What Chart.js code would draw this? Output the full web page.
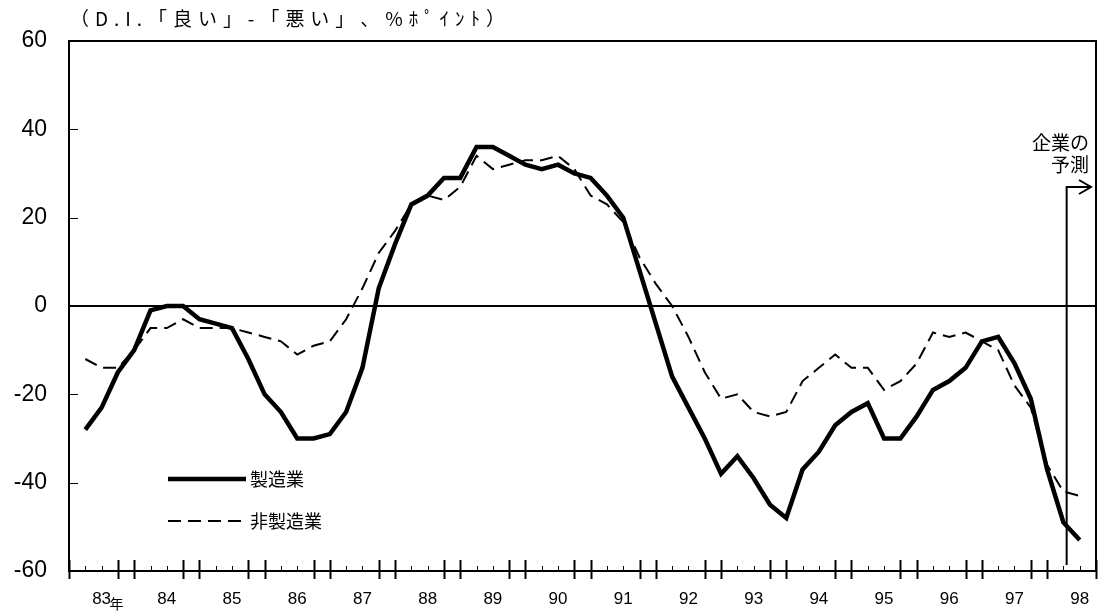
<!DOCTYPE html>
<html lang="ja">
<head>
<meta charset="utf-8">
<title>業況判断D.I.</title>
<script src="https://cdn.jsdelivr.net/npm/chart.js@4/dist/chart.umd.min.js"></script>
<style>
    html, body { margin: 0; padding: 0; background: #fff; overflow: hidden; }
    #wrap { position: relative; width: 1104px; height: 611px; }
</style>
</head>
<body>
<div id="wrap"><canvas id="diChart"></canvas></div>
<script>
// 年ラベル（四半期の2番目に表示）
const years = ['83', '84', '85', '86', '87', '88', '89', '90', '91', '92', '93', '94', '95', '96', '97', '98'];
// 製造業 D.I.（83年〜98年予測まで、四半期）
const manufacturing = [
    -28, -23, -15, -10, -1, 0, 0, -3, -4, -5, -12, -20, -24, -30, -30, -29,
    -24, -14, 4, 14, 23, 25, 29, 29, 36, 36, 34, 32, 31, 32, 30, 29,
    25, 20, 8, -4, -16, -23, -30, -38, -34, -39, -45, -48, -37, -33, -27, -24,
    -22, -30, -30, -25, -19, -17, -14, -8, -7, -13, -21, -37, -49, -53
];
// 非製造業 D.I.
const nonManufacturing = [
    -12, -14, -14, -10, -5, -5, -3, -5, -5, -5, -6, -7, -8, -11, -9, -8,
    -3, 4, 12, 17, 23, 25, 24, 27, 34, 31, 32, 33, 33, 34, 31, 25,
    23, 19, 11, 5, 0, -7, -15, -21, -20, -24, -25, -24, -17, -14, -11, -14,
    -14, -19, -17, -13, -6, -7, -6, -8, -10, -18, -23, -36, -42, -43
];
const yTicks = [-60, -40, -20, 0, 20, 40, 60];

// 目盛り位置は 0〜63、データは 1 から
const slotCount = 64;
const labels = Array.from({ length: slotCount }, (_, i) => {
    const n = (i - 2) / 4;
    return Number.isInteger(n) && years[n] ? years[n] : '';
});

const JP = '"Noto Sans CJK JP", sans-serif';
const EN = '"Liberation Sans", Arial, sans-serif';

/**
 * 枠・目盛り・凡例・注記を描く
 */
const decorations = {
    id: 'decorations',
    afterDraw(chart) {
        const { ctx, chartArea: a, scales: { x, y } } = chart;
        ctx.save();
        ctx.strokeStyle = '#000';
        ctx.fillStyle = '#000';

        // プロット枠
        ctx.lineWidth = 2;
        ctx.strokeRect(a.left, a.top, a.right - a.left, a.bottom - a.top);

        // 横軸の目盛り（年の区切りは長め）
        for (let k = 0; k < slotCount; k++) {
            const px = Math.round(x.getPixelForValue(k)) + 0.5;
            ctx.beginPath();
            if (k % 4 === 0 || k % 4 === 3) {
                ctx.lineWidth = 2;
                ctx.moveTo(px, a.bottom - 11);
                ctx.lineTo(px, a.bottom + 8);
            } else {
                ctx.lineWidth = 1;
                ctx.moveTo(px, a.bottom - 5);
                ctx.lineTo(px, a.bottom);
            }
            ctx.stroke();
        }

        // 縦軸の目盛り（内向き）
        ctx.lineWidth = 1;
        yTicks.forEach(v => {
            const py = Math.round(y.getPixelForValue(v)) + 0.5;
            ctx.beginPath();
            ctx.moveTo(a.left, py);
            ctx.lineTo(a.left + 9, py);
            ctx.stroke();
        });

        // 「83年」の年
        ctx.font = `14px ${JP}`;
        ctx.textAlign = 'left';
        ctx.textBaseline = 'middle';
        ctx.fillText('年', x.getPixelForValue(2) + 8, 604);

        // 単位（等幅風に字間を広げる）
        const unit = '（D.I.「良い」-「悪い」、%ﾎﾟｲﾝﾄ）';
        ctx.font = `19px ${JP}`;
        const chars = [...unit];
        const raw = chars.reduce((s, c) => s + ctx.measureText(c).width, 0);
        const gap = (435 - raw) / (chars.length - 1);
        let tx = 70;
        chars.forEach(c => {
            ctx.fillText(c, tx, 19);
            tx += ctx.measureText(c).width + gap;
        });

        // 凡例
        const legendX = 168;
        ctx.font = `18px ${JP}`;
        ctx.lineWidth = 4.5;
        ctx.beginPath();
        ctx.moveTo(legendX, 479);
        ctx.lineTo(legendX + 78, 479);
        ctx.stroke();
        ctx.fillText('製造業', legendX + 82, 479);

        ctx.lineWidth = 2;
        ctx.setLineDash([13, 7]);
        ctx.beginPath();
        ctx.moveTo(legendX, 521);
        ctx.lineTo(legendX + 78, 521);
        ctx.stroke();
        ctx.setLineDash([]);
        ctx.fillText('非製造業', legendX + 82, 521);

        // 企業の予測（矢印）
        const fx = x.getPixelForValue(61) + 0.2 * (x.getPixelForValue(62) - x.getPixelForValue(61));
        const ay = 187;
        const tip = a.right - 5;
        ctx.lineWidth = 2;
        ctx.beginPath();
        ctx.moveTo(fx, a.bottom - 6);
        ctx.lineTo(fx, ay);
        ctx.lineTo(tip, ay);
        ctx.moveTo(tip - 12, ay - 7);
        ctx.lineTo(tip, ay);
        ctx.lineTo(tip - 12, ay + 7);
        ctx.stroke();

        ctx.font = `19px ${JP}`;
        ctx.textAlign = 'right';
        ctx.fillText('企業の', tip - 2, 143);
        ctx.fillText('予測', tip - 2, 165);

        ctx.restore();
    }
};

new Chart(document.getElementById('diChart'), {
    type: 'line',
    data: {
        labels: labels,
        datasets: [
            {
                label: '製造業',
                data: [null, ...manufacturing],
                borderColor: '#000',
                borderWidth: 4.5,
                pointRadius: 0,
                tension: 0,
                fill: false
            },
            {
                label: '非製造業',
                data: [null, ...nonManufacturing],
                borderColor: '#000',
                borderWidth: 2,
                borderDash: [13, 7],
                pointRadius: 0,
                tension: 0,
                fill: false
            }
        ]
    },
    options: {
        responsive: true,
        maintainAspectRatio: false,
        animation: false,
        layout: { padding: { top: 41, right: 8, left: 0, bottom: 0 } },
        plugins: {
            legend: { display: false },
            tooltip: { enabled: false }
        },
        scales: {
            x: {
                type: 'category',
                offset: false,
                // ラベル余白で右端が縮まないようにする
                afterFit: s => { s.height = 40; s.paddingLeft = 0; s.paddingRight = 0; },
                border: { display: false },
                grid: { display: false, drawTicks: false },
                ticks: {
                    autoSkip: false,
                    maxRotation: 0,
                    padding: 18,
                    color: '#000',
                    font: { family: EN, size: 17 },
                    callback: (v, i) => labels[i]
                }
            },
            y: {
                min: -60,
                max: 60,
                afterFit: s => { s.width = 69; },
                afterBuildTicks: s => { s.ticks = yTicks.map(v => ({ value: v })); },
                border: { display: false },
                grid: {
                    drawTicks: false,
                    color: c => (c.tick && c.tick.value === 0 ? '#000' : 'rgba(0,0,0,0)'),
                    lineWidth: 2
                },
                ticks: {
                    padding: 22,
                    color: '#000',
                    font: { family: EN, size: 23 }
                }
            }
        }
    },
    plugins: [decorations]
});
</script>
</body>
</html>
